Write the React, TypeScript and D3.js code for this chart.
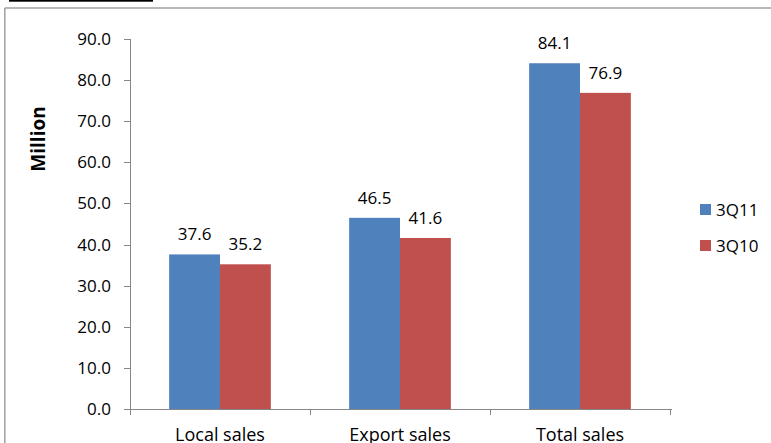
import React from "react";
import * as d3 from "d3";

const categories = ["Local sales", "Export sales", "Total sales"];
const seriesNames = ["3Q11", "3Q10"];
const values3Q11 = [37.6, 46.5, 84.1];
const values3Q10 = [35.2, 41.6, 76.9];
const yTicks = [0, 10, 20, 30, 40, 50, 60, 70, 80, 90];
const colors = ["#4F81BD", "#C0504D"];

const W = 771;
const H = 443;
const FONT = "Open Sans, sans-serif";

export default function App() {
  const x = d3.scaleBand<string>().domain(categories).range([130, 670]).paddingInner(0).paddingOuter(0);
  const y = d3.scaleLinear().domain([0, 90]).range([409, 39]);
  const inner = d3.scaleBand<string>().domain(seriesNames).range([0, x.bandwidth()]).paddingInner(0).paddingOuter(0.77);
  const series = [values3Q11, values3Q10];
  const axisColor = "#868686";

  return (
    <svg width={W} height={H} style={{ position: "absolute", left: 0, top: 0 }} fontFamily={FONT}>
      <rect x={0} y={0} width={W} height={H} fill="#fff" />
      <rect x={9} y={0} width={144} height={1.7} fill="#000" />
      <line x1={4.8} y1={8} x2={W} y2={8} stroke="#a0a0a0" strokeWidth={1.5} />
      <line x1={4.8} y1={8} x2={4.8} y2={H} stroke="#a0a0a0" strokeWidth={1.5} />

      {series.map((vals, si) =>
        categories.map((c, ci) => (
          <rect
            key={`${si}-${ci}`}
            x={(x(c) ?? 0) + (inner(seriesNames[si]) ?? 0)}
            y={y(vals[ci])}
            width={inner.bandwidth()}
            height={y(0) - y(vals[ci])}
            fill={colors[si]}
          />
        ))
      )}

      {series.map((vals, si) =>
        categories.map((c, ci) => (
          <text
            key={`l${si}-${ci}`}
            x={(x(c) ?? 0) + (inner(seriesNames[si]) ?? 0) + inner.bandwidth() / 2}
            y={y(vals[ci]) - 14}
            textAnchor="middle"
            fontSize={17}
            fill="#000"
          >
            {vals[ci].toFixed(1)}
          </text>
        ))
      )}

      <line x1={130.5} y1={y(90)} x2={130.5} y2={y(0)} stroke={axisColor} />
      {yTicks.map((t) => (
        <g key={t}>
          <line x1={124} y1={Math.round(y(t)) + 0.5} x2={130.5} y2={Math.round(y(t)) + 0.5} stroke={axisColor} />
          <text x={111} y={y(t) + 6} textAnchor="end" fontSize={17} fill="#000">
            {t.toFixed(1)}
          </text>
        </g>
      ))}

      <line x1={130} y1={409.5} x2={672} y2={409.5} stroke={axisColor} />
      {[0, 1, 2, 3].map((i) => {
        const xx = Math.round(130 + i * x.bandwidth()) + 0.5;
        return <line key={i} x1={xx} y1={409.5} x2={xx} y2={415} stroke={axisColor} />;
      })}
      {categories.map((c) => (
        <text key={c} x={(x(c) ?? 0) + x.bandwidth() / 2} y={441} textAnchor="middle" fontSize={18} fill="#000">
          {c}
        </text>
      ))}

      <text
        transform={`translate(45,139) rotate(-90)`}
        textAnchor="middle"
        fontSize={19}
        fontWeight="bold"
        fill="#000"
      >
        Million
      </text>

      {seriesNames.map((s, i) => (
        <g key={s}>
          <rect x={700} y={204 + i * 36} width={11} height={11} fill={colors[i]} />
          <text x={716} y={216 + i * 36} fontSize={17} fill="#000">
            {s}
          </text>
        </g>
      ))}
    </svg>
  );
}
